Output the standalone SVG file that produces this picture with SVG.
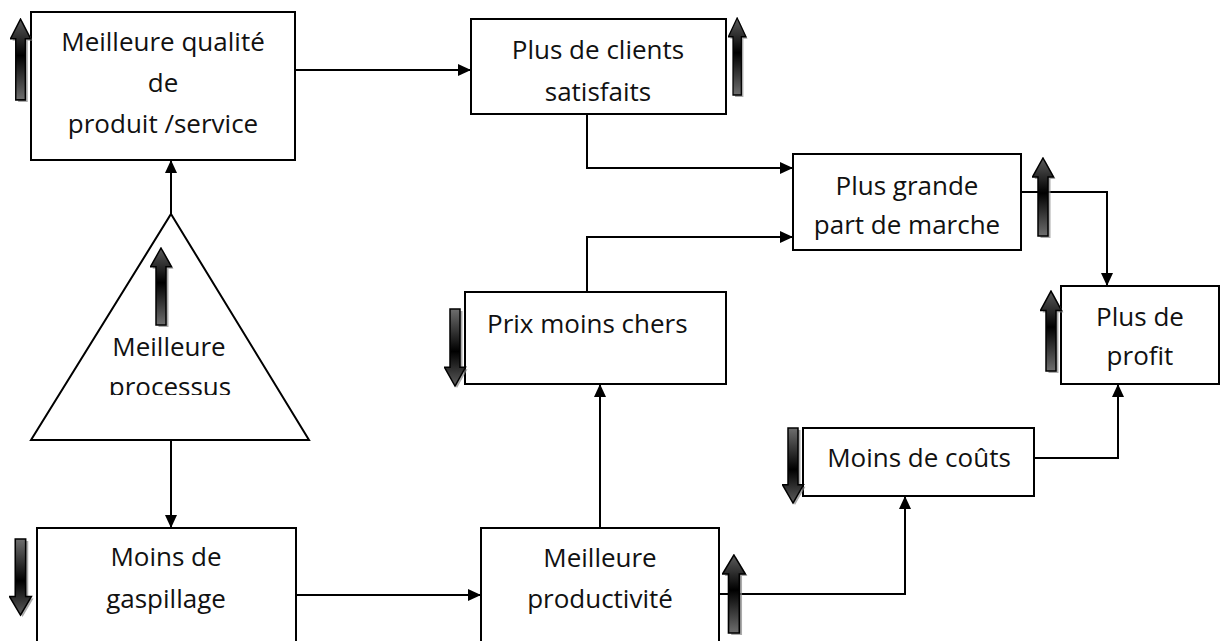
<svg xmlns="http://www.w3.org/2000/svg" xmlns:xlink="http://www.w3.org/1999/xlink" width="1224" height="641" viewBox="0 0 1224 641">
<style>
.box{fill:#fff;stroke:#000;stroke-width:2}
.t{font-family:"Open Sans","Liberation Sans",sans-serif;font-size:26px;fill:#111;text-anchor:middle}
.c{fill:none;stroke:#000;stroke-width:2;marker-end:url(#ah)}
</style>
<defs>
<marker id="ah" markerUnits="userSpaceOnUse" markerWidth="13" markerHeight="12" refX="13" refY="6" orient="auto">
<path d="M0,0 L13,6 L0,12 Z" fill="#000"/>
</marker>
<linearGradient id="gu" x1="0" y1="0" x2="0" y2="1">
<stop offset="0" stop-color="#5c5c5c"/>
<stop offset="0.45" stop-color="#000"/>
<stop offset="1" stop-color="#6e6e6e"/>
</linearGradient>
<linearGradient id="gd" x1="0" y1="0" x2="0" y2="1">
<stop offset="0" stop-color="#6e6e6e"/>
<stop offset="0.55" stop-color="#000"/>
<stop offset="1" stop-color="#5c5c5c"/>
</linearGradient>
<symbol id="up" viewBox="0 0 24 82" preserveAspectRatio="none">
<path d="M13,3 L23.5,22 L18.5,22 L18.5,81 L8.5,81 L8.5,22 L2.5,22 Z" fill="#888" opacity="0.7"/>
<path d="M11,1 L21.5,20 L16,20 L16,79 L6,79 L6,20 L0.5,20 Z" fill="url(#gu)" stroke="#000" stroke-width="1.5"/>
</symbol>
<symbol id="down" viewBox="0 0 24 82" preserveAspectRatio="none">
<path d="M13,81 L23.5,62 L18.5,62 L18.5,3 L8.5,3 L8.5,62 L2.5,62 Z" fill="#888" opacity="0.7"/>
<path d="M11,79 L21.5,60 L16,60 L16,1 L6,1 L6,60 L0.5,60 Z" fill="url(#gd)" stroke="#000" stroke-width="1.5"/>
</symbol>
<clipPath id="triclip"><rect x="0" y="200" width="400" height="195"/></clipPath>
</defs>

<g id="connectors">
<path class="c" d="M295,70 H471"/>
<path class="c" d="M171,214 V160"/>
<path class="c" d="M171,440 V528"/>
<path class="c" d="M296,595 H481"/>
<path class="c" d="M600,528 V384"/>
<path class="c" d="M719,594 H905 V496"/>
<path class="c" d="M1034,458 H1118 V384"/>
<path class="c" d="M587,292 V237 H793"/>
<path class="c" d="M587,114 V168 H793"/>
<path class="c" d="M1021,192 H1107 V286"/>
</g>

<g id="n-qualite">
<rect class="box" x="31" y="12" width="264" height="148"/>
<text class="t" x="163" y="51">Meilleure qualité</text>
<text class="t" x="163" y="92">de</text>
<text class="t" x="163" y="133">produit /service</text>
<use xlink:href="#up" x="10" y="18" width="23" height="85"/>
</g>

<g id="n-clients">
<rect class="box" x="471" y="19" width="255" height="95"/>
<text class="t" x="598" y="59">Plus de clients</text>
<text class="t" x="598" y="101">satisfaits</text>
<use xlink:href="#up" x="728" y="17" width="20" height="81"/>
</g>

<g id="n-part">
<rect class="box" x="793" y="154" width="228" height="96"/>
<text class="t" x="907" y="195">Plus grande</text>
<text class="t" x="907" y="234">part de marche</text>
<use xlink:href="#up" x="1032" y="157" width="24" height="82"/>
</g>

<g id="n-profit">
<rect class="box" x="1061" y="286" width="158" height="98"/>
<text class="t" x="1140" y="326">Plus de</text>
<text class="t" x="1140" y="365">profit</text>
<use xlink:href="#up" x="1040" y="290" width="24" height="84"/>
</g>

<g id="n-prix">
<rect class="box" x="465" y="292" width="261" height="92"/>
<text class="t" x="487" y="333" style="text-anchor:start">Prix moins chers</text>
<use xlink:href="#down" x="444" y="308" width="24" height="81"/>
</g>

<g id="n-processus">
<polygon class="box" points="171,214 309,440 31,440"/>
<g clip-path="url(#triclip)">
<text class="t" x="169" y="356">Meilleure</text>
<text class="t" x="170" y="396">processus</text>
</g>
<use xlink:href="#up" x="150" y="247" width="24" height="81"/>
</g>

<g id="n-couts">
<rect class="box" x="803" y="428" width="231" height="68"/>
<text class="t" x="919" y="467">Moins de coûts</text>
<use xlink:href="#down" x="782" y="427" width="24" height="79"/>
</g>

<g id="n-gaspillage">
<rect class="box" x="37" y="528" width="259" height="130"/>
<text class="t" x="166" y="566">Moins de</text>
<text class="t" x="166" y="608">gaspillage</text>
<use xlink:href="#down" x="9" y="538" width="25" height="80"/>
</g>

<g id="n-productivite">
<rect class="box" x="481" y="528" width="238" height="130"/>
<text class="t" x="600" y="567">Meilleure</text>
<text class="t" x="600" y="608">productivité</text>
<use xlink:href="#up" x="722" y="554" width="26" height="82"/>
</g>
</svg>
